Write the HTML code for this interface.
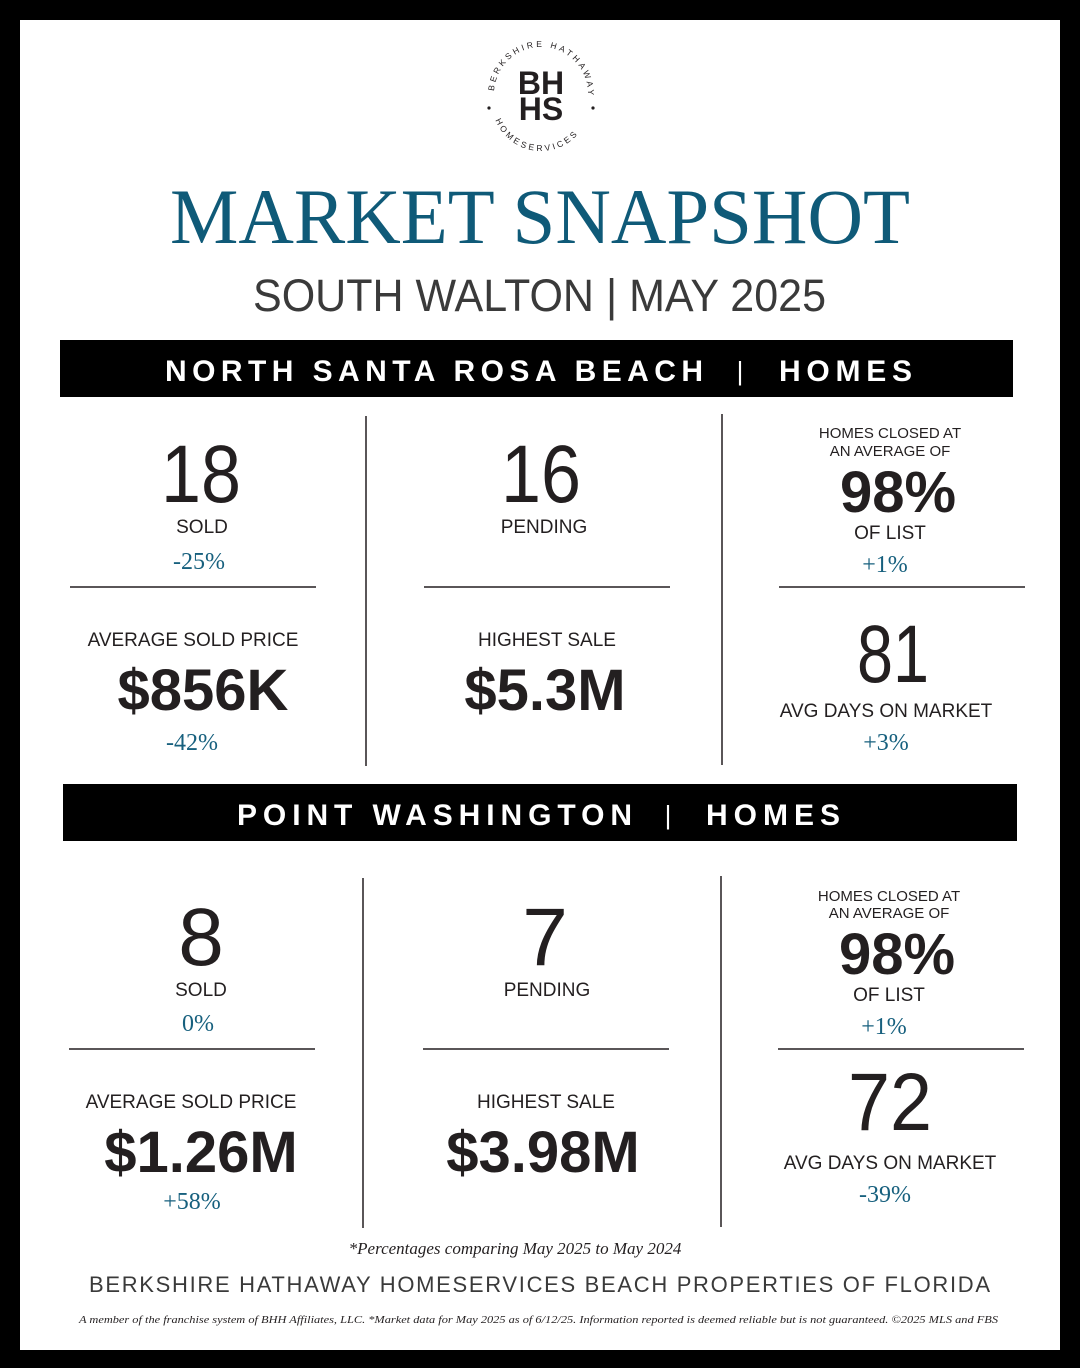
<!DOCTYPE html>
<html><head><meta charset="utf-8"><style>
html,body{margin:0;padding:0;background:#000;}
svg{display:block}
.s{font-family:"Liberation Sans",sans-serif;fill:#231f20}
.big{font-size:82px;font-weight:normal}
.bold{font-size:58px;font-weight:bold}
.lab{font-size:19px}
.sm{font-size:15px}
.pc{font-family:"Liberation Serif",serif;font-size:24px;fill:#17607e}
.bar{font-family:"Liberation Sans",sans-serif;font-weight:bold;font-size:30px;fill:#fff}
</style></head><body>
<svg width="1080" height="1368" viewBox="0 0 1080 1368" xmlns="http://www.w3.org/2000/svg">
<rect x="0" y="0" width="1080" height="1368" fill="#000"/>
<rect x="20" y="20" width="1040" height="1330" fill="#fff"/>
<defs><path id="arc" d="M 494 94 A 47 47 0 1 1 588 94 A 47 47 0 1 1 494 94"/>
<path id="arcb" d="M 492 102 A 49 49 0 0 0 590 102"/></defs>
<text class="s" style="font-size:8.5px;letter-spacing:2.8px"><textPath href="#arc" startOffset="1%">BERKSHIRE HATHAWAY</textPath></text>
<text class="s" style="font-size:8.5px;letter-spacing:2.8px"><textPath href="#arcb" startOffset="12%">HOMESERVICES</textPath></text>
<circle cx="489" cy="108" r="1.6" fill="#231f20"/><circle cx="593" cy="108" r="1.6" fill="#231f20"/>
<text class="s" x="541" y="94" text-anchor="middle" style="font-size:32px;font-weight:bold">BH</text>
<text class="s" x="541" y="120" text-anchor="middle" style="font-size:32px;font-weight:bold">HS</text>
<text x="170" y="243" textLength="740" lengthAdjust="spacingAndGlyphs" style="font-family:'Liberation Serif',serif;font-size:78px;fill:#0f5a78">MARKET SNAPSHOT</text>
<text class="s" x="253" y="311" textLength="573" lengthAdjust="spacingAndGlyphs" style="font-size:45px;fill:#3a3a3a">SOUTH WALTON | MAY 2025</text>
<rect x="60" y="340" width="953" height="57" fill="#000"/>
<text class="bar" x="165" y="381" textLength="538" lengthAdjust="spacing">NORTH SANTA ROSA BEACH</text>
<text class="bar" x="740" y="380" text-anchor="middle" style="font-weight:normal;font-size:26px">|</text>
<text class="bar" x="779" y="381" textLength="133" lengthAdjust="spacing">HOMES</text>
<line x1="366" y1="416" x2="366" y2="766" stroke="#231f20" stroke-width="1.5"/>
<line x1="722" y1="414" x2="722" y2="765" stroke="#231f20" stroke-width="1.5"/>
<line x1="70" y1="587" x2="316" y2="587" stroke="#231f20" stroke-width="1.5"/>
<line x1="424" y1="587" x2="670" y2="587" stroke="#231f20" stroke-width="1.5"/>
<line x1="779" y1="587" x2="1025" y2="587" stroke="#231f20" stroke-width="1.5"/>
<g text-anchor="middle">
<text class="s big" x="201" y="502" textLength="80" lengthAdjust="spacingAndGlyphs">18</text>
<text class="s lab" x="202" y="533">SOLD</text>
<text class="pc" x="199" y="569">-25%</text>
<text class="s big" x="541" y="502" textLength="80" lengthAdjust="spacingAndGlyphs">16</text>
<text class="s lab" x="544" y="533">PENDING</text>
<text class="s sm" x="890" y="438">HOMES CLOSED AT</text>
<text class="s sm" x="890" y="456">AN AVERAGE OF</text>
<text class="s bold" x="898" y="512">98%</text>
<text class="s lab" x="890" y="539">OF LIST</text>
<text class="pc" x="885" y="572">+1%</text>
<text class="s lab" x="193" y="646">AVERAGE SOLD PRICE</text>
<text class="s bold" x="203" y="710">$856K</text>
<text class="pc" x="192" y="750">-42%</text>
<text class="s lab" x="547" y="646">HIGHEST SALE</text>
<text class="s bold" x="545" y="710">$5.3M</text>
<text class="s big" x="893" y="682" textLength="72" lengthAdjust="spacingAndGlyphs">81</text>
<text class="s lab" x="886" y="717">AVG DAYS ON MARKET</text>
<text class="pc" x="886" y="750">+3%</text>
</g>
<rect x="63" y="784" width="954" height="57" fill="#000"/>
<text class="bar" x="237" y="825" textLength="395" lengthAdjust="spacing">POINT WASHINGTON</text>
<text class="bar" x="668" y="824" text-anchor="middle" style="font-weight:normal;font-size:26px">|</text>
<text class="bar" x="706" y="825" textLength="134" lengthAdjust="spacing">HOMES</text>
<line x1="363" y1="878" x2="363" y2="1228" stroke="#231f20" stroke-width="1.5"/>
<line x1="721" y1="876" x2="721" y2="1227" stroke="#231f20" stroke-width="1.5"/>
<line x1="69" y1="1049" x2="315" y2="1049" stroke="#231f20" stroke-width="1.5"/>
<line x1="423" y1="1049" x2="669" y2="1049" stroke="#231f20" stroke-width="1.5"/>
<line x1="778" y1="1049" x2="1024" y2="1049" stroke="#231f20" stroke-width="1.5"/>
<g text-anchor="middle">
<text class="s big" x="201" y="965">8</text>
<text class="s lab" x="201" y="996">SOLD</text>
<text class="pc" x="198" y="1031">0%</text>
<text class="s big" x="545" y="965">7</text>
<text class="s lab" x="547" y="996">PENDING</text>
<text class="s sm" x="889" y="901">HOMES CLOSED AT</text>
<text class="s sm" x="889" y="918">AN AVERAGE OF</text>
<text class="s bold" x="897" y="974">98%</text>
<text class="s lab" x="889" y="1001">OF LIST</text>
<text class="pc" x="884" y="1034">+1%</text>
<text class="s lab" x="191" y="1108">AVERAGE SOLD PRICE</text>
<text class="s bold" x="201" y="1172">$1.26M</text>
<text class="pc" x="192" y="1209">+58%</text>
<text class="s lab" x="546" y="1108">HIGHEST SALE</text>
<text class="s bold" x="543" y="1172">$3.98M</text>
<text class="s big" x="890" y="1130" textLength="84" lengthAdjust="spacingAndGlyphs">72</text>
<text class="s lab" x="890" y="1169">AVG DAYS ON MARKET</text>
<text class="pc" x="885" y="1202">-39%</text>
<text x="515" y="1254" style="font-family:'Liberation Serif',serif;font-style:italic;font-size:17px;fill:#231f20">*Percentages comparing May 2025 to May 2024</text>
</g>
<text class="s" x="89" y="1292" textLength="901" lengthAdjust="spacing" style="font-size:22px;fill:#3a3a3a">BERKSHIRE HATHAWAY HOMESERVICES BEACH PROPERTIES OF FLORIDA</text>
<text x="79" y="1323" textLength="919" lengthAdjust="spacingAndGlyphs" style="font-family:'Liberation Serif',serif;font-style:italic;font-size:11px;fill:#231f20">A member of the franchise system of BHH Affiliates, LLC. *Market data for May 2025 as of 6/12/25. Information reported is deemed reliable but is not guaranteed. ©2025 MLS and FBS</text>
</svg>
</body></html>
